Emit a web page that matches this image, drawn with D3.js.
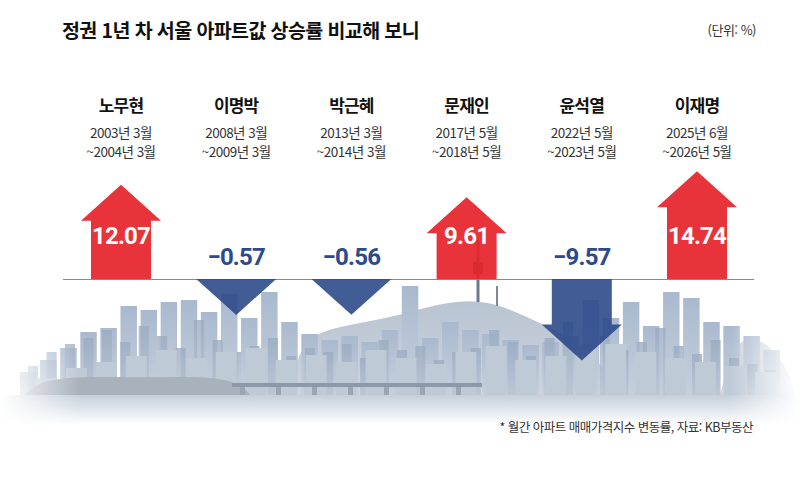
<!DOCTYPE html>
<html lang="ko">
<head>
<meta charset="utf-8">
<script src="https://cdn.jsdelivr.net/npm/d3@7"></script>
<style>
  html, body { margin: 0; padding: 0; background: #fff; }
  svg { display: block; font-family: "Noto Sans CJK KR", "Noto Sans", sans-serif; }
</style>
</head>
<body>
<div id="chart"></div>
<script>
/* global d3 */

const names = ["노무현", "이명박", "박근혜", "문재인", "윤석열", "이재명"];
const periodStart = ["2003년 3월", "2008년 3월", "2013년 3월", "2017년 5월", "2022년 5월", "2025년 6월"];
const periodEnd = ["~2004년 3월", "~2009년 3월", "~2014년 3월", "~2018년 5월", "~2023년 5월", "~2026년 5월"];
const changes = [12.07, -0.57, -0.56, 9.61, -9.57, 14.74];

// background skyline, decoration only (building tops, hill ridge)
const skylineBack = [372, 360, 348, 332, 328, 306, 310, 302, 300, 312, 294, 318, 292, 322,
  334, 340, 336, 342, 330, 286, 338, 322, 330, 334, 340, 345, 342, 336, 300, 318, 302,
  326, 292, 298, 322, 326, 336, 350];
const skylineMid = [366, 352, 344, 338, 330, 342, 326, 336, 348, 320, 340, 352, 346, 338,
  356, 348, 352, 344, 358, 340, 350, 346, 360, 352, 348, 330, 342, 356, 338, 322, 344,
  336, 350, 342, 328, 346, 354, 340, 358, 364, 370];
const skylineFront = [378, 368, 362, 356, 350, 358, 352, 348, 360, 355, 362, 350, 358,
  364, 352, 346, 360, 356, 350, 344, 352, 358, 362, 366, 372];
const ridge = [[290, 395], [300, 338], [340, 326], [390, 318], [430, 306], [470, 299],
  [505, 306], [545, 326], [590, 346], [620, 395]];
const ridgeRight = [[720, 395], [735, 336], [765, 338], [790, 372], [795, 395]];

const W = 800, H = 477;
const base = 279;

const svg = d3.select("#chart").append("svg").attr("width", W).attr("height", H);
const defs = svg.append("defs");

const vGrad = (id, top, bottom) => {
  const g = defs.append("linearGradient").attr("id", id)
    .attr("x1", 0).attr("y1", 0).attr("x2", 0).attr("y2", 1);
  g.append("stop").attr("offset", "0%").attr("stop-color", top);
  g.append("stop").attr("offset", "100%").attr("stop-color", bottom);
};
vGrad("gBuild", "#a9b9ce", "#c6d0dc");
vGrad("gMid", "#9aabc1", "#b9c4d2");
vGrad("gHill", "#b9c4d2", "#ccd4de");
vGrad("gWater", "#c6cfda", "#ffffff");

const gLeft = defs.append("linearGradient").attr("id", "gLeft");
gLeft.append("stop").attr("offset", "0%").attr("stop-color", "#fff").attr("stop-opacity", 1);
gLeft.append("stop").attr("offset", "100%").attr("stop-color", "#fff").attr("stop-opacity", 0);
const gRight = defs.append("linearGradient").attr("id", "gRight");
gRight.append("stop").attr("offset", "0%").attr("stop-color", "#fff").attr("stop-opacity", 0);
gRight.append("stop").attr("offset", "100%").attr("stop-color", "#fff").attr("stop-opacity", 1);

// ---- skyline ----
const bg = svg.append("g").attr("class", "skyline");
const area = d3.area().x((d) => d[0]).y0(395).y1((d) => d[1]).curve(d3.curveBasis);

bg.append("path").datum(ridge).attr("d", area).attr("fill", "url(#gHill)");
bg.append("path").datum(ridgeRight).attr("d", area).attr("fill", "#cdd5df");

// Namsan towers
bg.append("rect").attr("x", 476.5).attr("y", 240).attr("width", 3).attr("height", 62).attr("fill", "#6d7a8c");
bg.append("rect").attr("x", 473).attr("y", 262).attr("width", 10).attr("height", 12).attr("fill", "#6d7a8c");
bg.append("rect").attr("x", 496).attr("y", 286).attr("width", 2).attr("height", 20).attr("fill", "#7d8898");

const xBack = d3.scaleBand().domain(d3.range(skylineBack.length)).range([20, 780]).paddingInner(0.18);
bg.selectAll("rect.back")
  .data(skylineBack)
  .enter()
  .append("rect")
  .attr("class", "back")
  .attr("x", (d, i) => xBack(i))
  .attr("y", (d) => d)
  .attr("width", xBack.bandwidth())
  .attr("height", (d) => 395 - d)
  .attr("fill", "url(#gBuild)");

const xMid = d3.scaleBand().domain(d3.range(skylineMid.length)).range([28, 776]).paddingInner(0.45);
bg.selectAll("rect.mid")
  .data(skylineMid)
  .enter()
  .append("rect")
  .attr("class", "mid")
  .attr("x", (d, i) => xMid(i))
  .attr("y", (d) => d)
  .attr("width", xMid.bandwidth())
  .attr("height", (d) => 395 - d)
  .attr("fill", "url(#gMid)")
  .attr("fill-opacity", 0.8);

const xFront = d3.scaleBand().domain(d3.range(skylineFront.length)).range([30, 770]).paddingInner(0.3);
bg.selectAll("rect.front")
  .data(skylineFront)
  .enter()
  .append("rect")
  .attr("class", "front")
  .attr("x", (d, i) => xFront(i) + 6)
  .attr("y", (d) => d)
  .attr("width", xFront.bandwidth())
  .attr("height", (d) => 395 - d)
  .attr("fill", "#bfcad7");

// trees along the river, left side
bg.append("path")
  .datum([[25, 395], [40, 380], [90, 376], [150, 378], [200, 376], [240, 382], [250, 395]])
  .attr("d", area)
  .attr("fill", "#a8b1bc");

// bridge
bg.append("rect").attr("x", 232).attr("y", 383).attr("width", 250).attr("height", 4).attr("fill", "#8d99a8");
bg.selectAll("rect.pier")
  .data(d3.range(240, 482, 36))
  .enter()
  .append("rect")
  .attr("class", "pier")
  .attr("x", (d) => d)
  .attr("y", 387)
  .attr("width", 5)
  .attr("height", 12)
  .attr("fill", "#9aa5b3");

// water
bg.append("rect").attr("x", 0).attr("y", 395).attr("width", W).attr("height", 30).attr("fill", "url(#gWater)");

// edge fades
bg.append("rect").attr("x", 0).attr("y", 280).attr("width", 80).attr("height", 150).attr("fill", "url(#gLeft)");
bg.append("rect").attr("x", 730).attr("y", 280).attr("width", 70).attr("height", 150).attr("fill", "url(#gRight)");

// ---- title ----
svg.append("text")
  .attr("x", 62)
  .attr("y", 38)
  .attr("font-size", 19.5)
  .attr("font-weight", 700)
  .attr("letter-spacing", -0.6)
  .attr("fill", "#111")
  .text("정권 1년 차 서울 아파트값 상승률 비교해 보니");

svg.append("text")
  .attr("x", 756)
  .attr("y", 35)
  .attr("text-anchor", "end")
  .attr("font-size", 13)
  .attr("letter-spacing", -0.5)
  .attr("fill", "#333")
  .text("(단위: %)");

// ---- scales ----
const x = d3.scalePoint().domain(names).range([121, 697]);
const len = d3.scaleLinear().domain([0, 15]).range([33, 109]);

const headH = 36, headW = 40, shaftW = 30;

const arrowPath = (v, cx) => {
  const dir = v >= 0 ? -1 : 1;
  const l = len(Math.abs(v));
  const tip = base + dir * l;
  const shaft = Math.max(0, l - headH);
  const hb = base + dir * shaft;
  const p = d3.path();
  if (shaft > 0) {
    p.moveTo(cx - shaftW, base);
    p.lineTo(cx - shaftW, hb);
    p.lineTo(cx - headW, hb);
  } else {
    p.moveTo(cx - headW, base);
  }
  p.lineTo(cx, tip);
  if (shaft > 0) {
    p.lineTo(cx + headW, hb);
    p.lineTo(cx + shaftW, hb);
    p.lineTo(cx + shaftW, base);
  } else {
    p.lineTo(cx + headW, base);
  }
  p.closePath();
  return p.toString();
};

// zero line
svg.append("line")
  .attr("x1", 63)
  .attr("x2", 754)
  .attr("y1", base + 0.5)
  .attr("y2", base + 0.5)
  .attr("stroke", "#8a8a8a")
  .attr("stroke-width", 1);

// arrows
svg.selectAll("path.arrow")
  .data(changes)
  .enter()
  .append("path")
  .attr("class", "arrow")
  .attr("d", (d, i) => arrowPath(d, x(names[i])))
  .attr("fill", (d) => (d >= 0 ? "#e5232a" : "#2e4a8b"))
  .attr("fill-opacity", (d) => (d >= 0 ? 0.93 : 0.9));

// value labels
svg.selectAll("text.value")
  .data(changes)
  .enter()
  .append("text")
  .attr("class", "value")
  .attr("x", (d, i) => x(names[i]))
  .attr("y", (d) => (d >= 0 ? base - 35 : base - 14))
  .attr("text-anchor", "middle")
  .attr("font-family", "Roboto, 'Noto Sans', sans-serif")
  .attr("font-size", 24)
  .attr("font-weight", 700)
  .attr("letter-spacing", -0.8)
  .attr("fill", (d) => (d >= 0 ? "#fff" : "#2e4a8b"))
  .text((d) => (d < 0 ? "\u2212" + Math.abs(d).toFixed(2) : d.toFixed(2)));

// names and periods
const heads = svg.selectAll("g.head")
  .data(names)
  .enter()
  .append("g")
  .attr("class", "head")
  .attr("transform", (d) => `translate(${x(d)}, 0)`);

heads.append("text")
  .attr("y", 112)
  .attr("text-anchor", "middle")
  .attr("font-size", 17)
  .attr("font-weight", 700)
  .attr("letter-spacing", -0.8)
  .attr("fill", "#111")
  .text((d) => d);

heads.append("text")
  .attr("y", 138)
  .attr("text-anchor", "middle")
  .attr("font-size", 13.5)
  .attr("letter-spacing", -0.5)
  .attr("fill", "#333")
  .text((d, i) => periodStart[i]);

heads.append("text")
  .attr("y", 157)
  .attr("text-anchor", "middle")
  .attr("font-size", 13.5)
  .attr("letter-spacing", -0.5)
  .attr("fill", "#333")
  .text((d, i) => periodEnd[i]);

// footnote
svg.append("text")
  .attr("x", 753)
  .attr("y", 432)
  .attr("text-anchor", "end")
  .attr("font-size", 12.5)
  .attr("letter-spacing", -0.5)
  .attr("fill", "#333")
  .text("* 월간 아파트 매매가격지수 변동률, 자료: KB부동산");
</script>
</body>
</html>
